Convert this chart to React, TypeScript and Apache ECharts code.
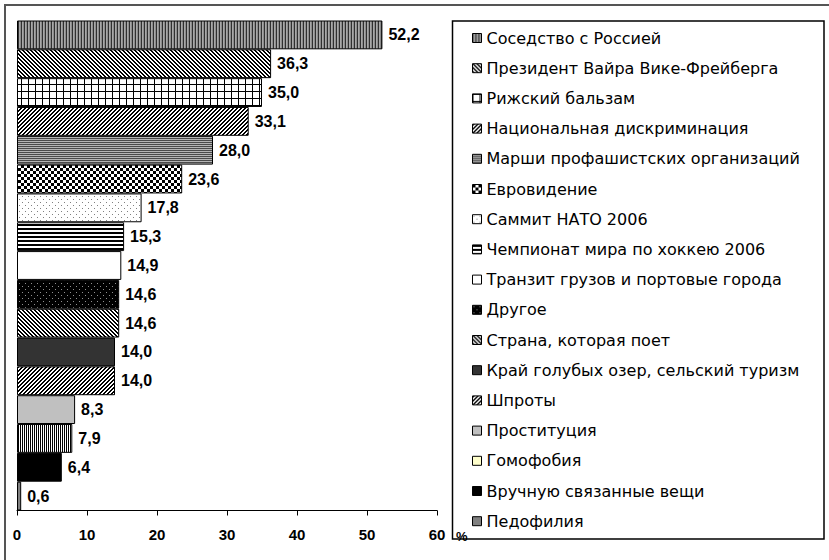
import React, { useEffect, useRef } from 'react';
import * as echarts from 'echarts';

const categories = [
  'Соседство с Россией',
  'Президент Вайра Вике-Фрейберга',
  'Рижский бальзам',
  'Национальная дискриминация',
  'Марши профашистских организаций',
  'Евровидение',
  'Саммит НАТО 2006',
  'Чемпионат мира по хоккею 2006',
  'Транзит грузов и портовые города',
  'Другое',
  'Страна, которая поет',
  'Край голубых озер, сельский туризм',
  'Шпроты',
  'Проституция',
  'Гомофобия',
  'Вручную связанные вещи',
  'Педофилия',
];

const values = [52.2, 36.3, 35.0, 33.1, 28.0, 23.6, 17.8, 15.3, 14.9, 14.6, 14.6, 14.0, 14.0, 8.3, 7.9, 6.4, 0.6];

const xMin = 0;
const xMax = 60;
const xInterval = 10;

const FONT = '"Liberation Sans", Arial, Helvetica, sans-serif';
const LEGEND_FONT = '"DejaVu Sans", "Liberation Sans", Arial, sans-serif';

type Drawer = (ctx: CanvasRenderingContext2D, w: number, h: number) => void;

function makePattern(w: number, h: number, draw: Drawer) {
  const c = document.createElement('canvas');
  c.width = w;
  c.height = h;
  const ctx = c.getContext('2d')!;
  draw(ctx, w, h);
  return { image: c, repeat: 'repeat', imageWidth: w, imageHeight: h } as any;
}

function px(ctx: CanvasRenderingContext2D, x: number, y: number, color: string) {
  ctx.fillStyle = color;
  ctx.fillRect(x, y, 1, 1);
}

function buildFills(): any[] {
  const vstripeGray = makePattern(3, 1, (ctx) => {
    px(ctx, 0, 0, '#303030');
    px(ctx, 1, 0, '#a8a8a8');
    px(ctx, 2, 0, '#8c8c8c');
  });
  const diagDown = makePattern(4, 4, (ctx) => {
    for (let y = 0; y < 4; y++)
      for (let x = 0; x < 4; x++) px(ctx, x, y, ((x - y + 8) % 4) < 2 ? '#000' : '#fff');
  });
  const grid = makePattern(7, 7, (ctx) => {
    ctx.fillStyle = '#fff';
    ctx.fillRect(0, 0, 7, 7);
    ctx.fillStyle = '#000';
    ctx.fillRect(0, 0, 7, 1);
    ctx.fillRect(0, 0, 1, 7);
  });
  const diagUp = makePattern(4, 4, (ctx) => {
    for (let y = 0; y < 4; y++)
      for (let x = 0; x < 4; x++) px(ctx, x, y, ((x + y) % 4) < 2 ? '#000' : '#fff');
  });
  const hstripeGray = makePattern(1, 2, (ctx) => {
    px(ctx, 0, 0, '#4a4a4a');
    px(ctx, 0, 1, '#b4b4b4');
  });
  const checker = makePattern(6, 6, (ctx) => {
    ctx.fillStyle = '#fff';
    ctx.fillRect(0, 0, 6, 6);
    ctx.fillStyle = '#000';
    ctx.fillRect(0, 0, 3, 3);
    ctx.fillRect(3, 3, 3, 3);
  });
  const dotsLight = makePattern(6, 6, (ctx) => {
    ctx.fillStyle = '#fff';
    ctx.fillRect(0, 0, 6, 6);
    px(ctx, 1, 1, '#808080');
    px(ctx, 4, 4, '#808080');
  });
  const hstripeBW = makePattern(1, 4, (ctx) => {
    px(ctx, 0, 0, '#000');
    px(ctx, 0, 1, '#000');
    px(ctx, 0, 2, '#fff');
    px(ctx, 0, 3, '#fff');
  });
  const dotsDark = makePattern(6, 6, (ctx) => {
    ctx.fillStyle = '#000';
    ctx.fillRect(0, 0, 6, 6);
    px(ctx, 1, 1, '#909090');
    px(ctx, 4, 4, '#909090');
  });
  const vstripeBW = makePattern(2, 1, (ctx) => {
    px(ctx, 0, 0, '#000');
    px(ctx, 1, 0, '#fff');
  });
  return [
    vstripeGray,
    diagDown,
    grid,
    diagUp,
    hstripeGray,
    checker,
    dotsLight,
    hstripeBW,
    '#ffffff',
    dotsDark,
    diagDown,
    '#333333',
    diagUp,
    '#c0c0c0',
    vstripeBW,
    '#000000',
    '#808080',
  ];
}

export default function App() {
  const ref = useRef<HTMLDivElement>(null);
  useEffect(() => {
    if (!ref.current) return;
    const chart = echarts.init(ref.current, undefined, { renderer: 'svg' });
    const fills = buildFills();
    const fmt = (p: any) => Number(p.value).toFixed(1).replace('.', ',');
    const series = categories.map((name, i) => ({
      type: 'bar',
      name,
      data: [values[i]],
      barGap: '0%',
      barCategoryGap: '0%',
      itemStyle: { color: fills[i], borderColor: '#000', borderWidth: 1 },
      label: {
        show: true,
        position: 'right',
        distance: 6,
        formatter: fmt,
        color: '#000',
        fontWeight: 'bold',
        fontSize: 16,
        fontFamily: FONT,
      },
    }));
    chart.setOption({
      animation: false,
      backgroundColor: '#fff',
      grid: { left: 17, width: 420, top: 20.5, height: 490 },
      xAxis: {
        type: 'value',
        min: xMin,
        max: xMax,
        interval: xInterval,
        axisLine: { show: true, lineStyle: { color: '#000', width: 1 } },
        axisTick: { show: true, inside: false, length: 5, lineStyle: { color: '#000', width: 1 } },
        splitLine: { show: false },
        axisLabel: {
          color: '#000',
          fontWeight: 'bold',
          fontSize: 15,
          fontFamily: FONT,
          margin: 16,
        },
      },
      yAxis: {
        type: 'category',
        data: [''],
        inverse: true,
        axisLine: { show: false },
        axisTick: { show: false },
        axisLabel: { show: false },
        splitLine: { show: false },
      },
      legend: {
        orient: 'vertical',
        left: 472,
        top: 28,
        padding: 0,
        itemWidth: 9,
        itemHeight: 9,
        itemGap: 10.2,
        icon: 'rect',
        selectedMode: false,
        itemStyle: { borderColor: '#000', borderWidth: 1 },
        textStyle: { color: '#000', fontSize: 16, lineHeight: 20, fontFamily: LEGEND_FONT },
        data: categories.map((n, i) => (i === 14 ? { name: n, itemStyle: { color: '#ffffcc' } } : n)),
      },
      graphic: [
        {
          type: 'polyline',
          shape: { points: [[5, 560], [5, 5], [829, 5]] },
          style: { stroke: '#555', lineWidth: 2, fill: 'none' },
          silent: true,
        },
        {
          type: 'rect',
          shape: { x: 452.5, y: 21, width: 371.5, height: 518 },
          style: { stroke: '#000', lineWidth: 1.5, fill: 'none' },
          silent: true,
        },
        {
          type: 'text',
          x: 456,
          y: 530,
          style: { text: '%', font: `bold 13px ${FONT}`, fill: '#000' },
          silent: true,
        },
      ],
      series,
    } as any);
    return () => chart.dispose();
  }, []);
  return (
    <div
      ref={ref}
      style={{ position: 'fixed', left: 0, top: 0, width: 829, height: 560 }}
    />
  );
}
